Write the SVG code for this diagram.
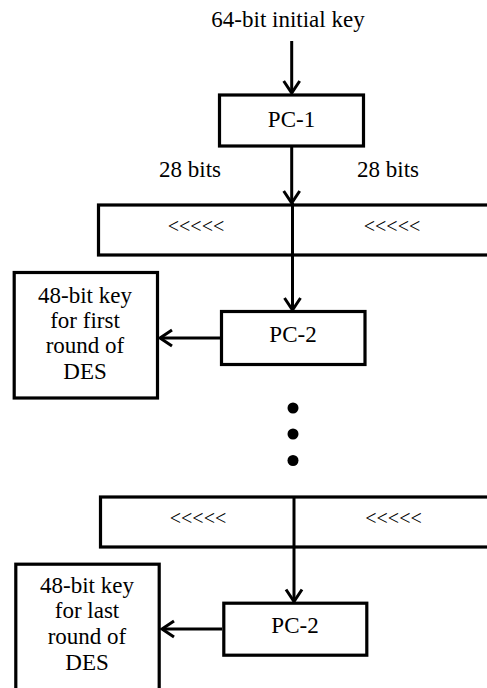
<svg xmlns="http://www.w3.org/2000/svg" width="487" height="688" viewBox="0 0 487 688">
<style>
.box{fill:#fff;stroke:#000;stroke-width:3.2}
.c{fill:none;stroke:#000;stroke-width:3}
.t{font-family:"Liberation Serif","DejaVu Serif",serif;font-size:23px;fill:#000;text-anchor:middle}
.s{font-size:20px}
</style>
<defs>
<marker id="ah" markerUnits="userSpaceOnUse" markerWidth="20" markerHeight="20" refX="12" refY="0" orient="auto" overflow="visible">
<path d="M0,-8 L12,0 L0,8" fill="none" stroke="#000" stroke-width="3"/>
</marker>
</defs>
<rect width="487" height="688" fill="#fff"/>
<text class="t" x="288" y="27">64-bit initial  key</text>
<text class="t" x="190" y="177">28 bits</text>
<text class="t" x="388" y="177">28 bits</text>
<g id="pc1">
<rect class="box" x="219.5" y="95" width="144" height="51"/>
<text class="t" x="291.5" y="127">PC-1</text>
</g>
<g id="shift1">
<rect class="box" x="98.5" y="205" width="400" height="50"/>
<text class="t s" x="196" y="233">&lt;&lt;&lt;&lt;&lt;</text>
<text class="t s" x="392" y="233">&lt;&lt;&lt;&lt;&lt;</text>
</g>
<g id="pc2a">
<rect class="box" x="221.5" y="311.5" width="143.5" height="53"/>
<text class="t" x="293" y="342">PC-2</text>
</g>
<g id="key1">
<rect class="box" x="14.2" y="272.5" width="143.3" height="125.5"/>
<text class="t" x="85" y="303">48-bit key</text>
<text class="t" x="85" y="328">for first</text>
<text class="t" x="85" y="353">round of</text>
<text class="t" x="85" y="379">DES</text>
</g>
<g id="dots">
<circle cx="293" cy="408" r="5.5"/>
<circle cx="293" cy="434" r="5.5"/>
<circle cx="293" cy="460.5" r="5.5"/>
</g>
<g id="shift2">
<rect class="box" x="100.5" y="497" width="400" height="50"/>
<text class="t s" x="198" y="525">&lt;&lt;&lt;&lt;&lt;</text>
<text class="t s" x="393.5" y="525">&lt;&lt;&lt;&lt;&lt;</text>
</g>
<g id="pc2b">
<rect class="box" x="223.8" y="603.2" width="143" height="52"/>
<text class="t" x="295" y="633">PC-2</text>
</g>
<g id="key2">
<rect class="box" x="15.8" y="564.2" width="143.4" height="140"/>
<text class="t" x="87" y="593">48-bit key</text>
<text class="t" x="87" y="618">for last</text>
<text class="t" x="87" y="644">round of</text>
<text class="t" x="87" y="670">DES</text>
</g>
<g id="connectors">
<line class="c" x1="291.7" y1="41" x2="291.7" y2="93" marker-end="url(#ah)"/>
<line class="c" x1="291.7" y1="146" x2="291.7" y2="203" marker-end="url(#ah)"/>
<line class="c" x1="292.5" y1="203" x2="292.5" y2="310" marker-end="url(#ah)"/>
<line class="c" x1="220" y1="338" x2="160" y2="338" marker-end="url(#ah)"/>
<line class="c" x1="294" y1="497" x2="294" y2="601.5" marker-end="url(#ah)"/>
<line class="c" x1="222" y1="629" x2="162" y2="629" marker-end="url(#ah)"/>
</g>
</svg>
